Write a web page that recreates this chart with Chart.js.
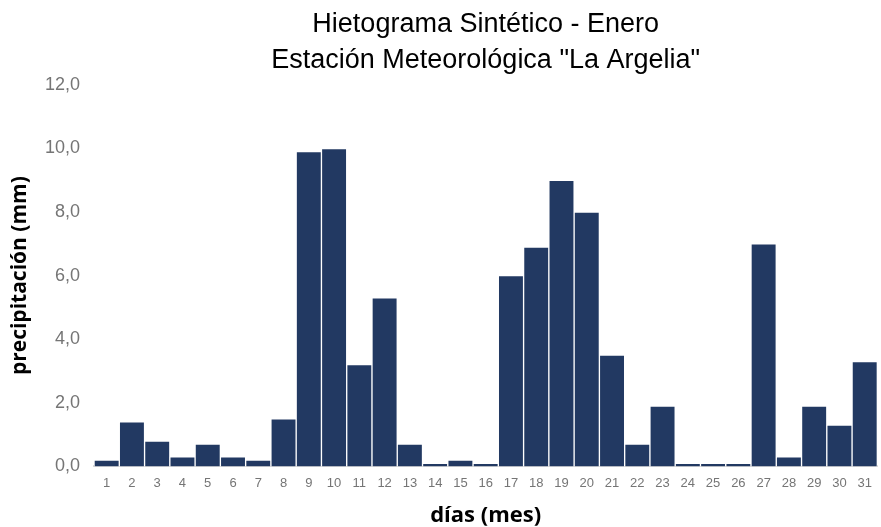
<!DOCTYPE html>
<html>
<head>
<meta charset="utf-8">
<script src="https://cdn.jsdelivr.net/npm/chart.js@4"></script>
<style>
  body { margin: 0; background: #fff; }
  #wrap { width: 881px; height: 527px; }
</style>
</head>
<body>
<div id="wrap"><canvas id="hieto"></canvas></div>
<script>
const dias = ['1','2','3','4','5','6','7','8','9','10','11','12','13','14','15','16','17','18','19','20','21','22','23','24','25','26','27','28','29','30','31'];
const precipitacion = [0.2, 1.4, 0.8, 0.3, 0.7, 0.3, 0.2, 1.5, 9.9, 10.0, 3.2, 5.3, 0.7, 0.1, 0.2, 0.1, 6.0, 6.9, 9.0, 8.0, 3.5, 0.7, 1.9, 0.1, 0.1, 0.1, 7.0, 0.3, 1.9, 1.3, 3.3];
const titulo = ['Hietograma Sintético - Enero', 'Estación Meteorológica "La Argelia"'];

const ctx = document.getElementById('hieto');

new Chart(ctx, {
  type: 'bar',
  data: {
    labels: dias,
    datasets: [{
      label: 'precipitación (mm)',
      data: precipitacion,
      backgroundColor: '#223962',
      borderColor: '#ffffff',
      borderWidth: 1,
      barPercentage: 1,
      categoryPercentage: 1
    }]
  },
  options: {
    responsive: true,
    maintainAspectRatio: false,
    animation: false,
    layout: { padding: { top: 6, right: 0, left: 10, bottom: 0 } },
    plugins: {
      legend: { display: false },
      tooltip: { enabled: false },
      title: {
        display: true,
        fullSize: false,
        text: titulo,
        color: '#000',
        font: { family: 'Liberation Sans', size: 27, weight: 'normal', lineHeight: 1.35 },
        padding: { top: 0, bottom: 6 }
      }
    },
    scales: {
      y: {
        min: 0,
        max: 12,
        ticks: {
          stepSize: 2,
          color: '#757575',
          font: { family: 'Liberation Sans', size: 18 },
          padding: 14,
          callback: function (v) { return v.toFixed(1).replace('.', ','); }
        },
        grid: { display: false, drawTicks: false },
        border: { display: false },
        title: {
          display: true,
          text: 'precipitación (mm)',
          color: '#000',
          font: { family: 'Open Sans', size: 21, weight: 'bold', lineHeight: 1 },
          padding: { top: 0, bottom: 0 }
        }
      },
      x: {
        ticks: {
          color: '#757575',
          font: { family: 'Liberation Sans', size: 13 },
          maxRotation: 0,
          autoSkip: false,
          padding: 9
        },
        grid: { display: false, drawTicks: false },
        border: { display: true, color: '#d9d9d9', width: 2 },
        title: {
          display: true,
          text: 'días (mes)',
          color: '#000',
          font: { family: 'Open Sans', size: 22, weight: 'bold', lineHeight: 1 },
          padding: { top: 5, bottom: 0 }
        }
      }
    }
  }
});
</script>
</body>
</html>
